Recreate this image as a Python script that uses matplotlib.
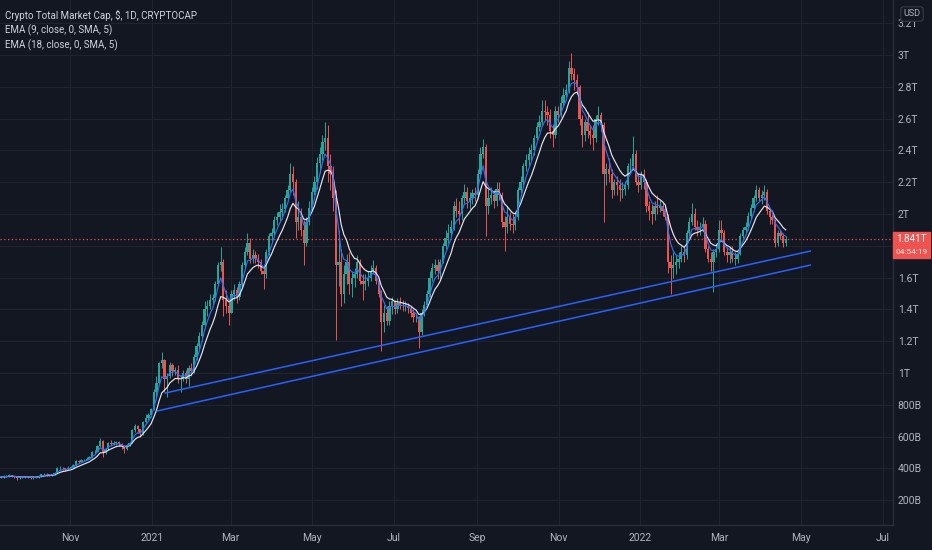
import matplotlib
matplotlib.use('Agg')
import matplotlib.pyplot as plt
import matplotlib.dates as mdates
import numpy as np
import pandas as pd

# 2日足, 単位は B (十億ドル)
start_date = '2020-09-10'
first_open = 342

close = [
    346, 350, 352, 356, 352, 348, 338, 345, 347, 346, 348,                      # 2020-09
    340, 345, 344, 350, 362, 365, 362, 358, 360, 372, 400, 405, 400, 395, 405,  # 2020-10
    405, 420, 445, 442, 450, 455, 462, 470, 500, 505, 540, 575, 500, 520, 560,  # 2020-11
    555, 560, 565, 555, 540, 520, 545, 560, 640, 665, 645, 620, 690, 720, 735, 775,  # 2020-12
    880, 940, 1060, 1080, 960, 980, 1050, 1010, 1020, 960, 960, 1000, 960, 1030, 1010,  # 2021-01
    1100, 1170, 1230, 1300, 1400, 1420, 1460, 1470, 1560, 1680, 1700, 1460, 1420, 1380,  # 2021-02
    1500, 1520, 1480, 1560, 1680, 1760, 1820, 1720, 1740, 1720, 1700, 1640, 1620, 1760, 1860, 1880,  # 2021-03
    1960, 1980, 2010, 2030, 2100, 2150, 2250, 2200, 1950, 1980, 1900, 1820, 1950, 2040, 2140,  # 2021-04
    2200, 2320, 2380, 2450, 2480, 2300, 2250, 2100, 1680, 1700, 1500, 1620, 1700, 1560, 1600,  # 2021-05
    1620, 1700, 1580, 1560, 1580, 1600, 1640, 1660, 1580, 1500, 1320, 1380, 1330, 1420, 1450,  # 2021-06
    1400, 1440, 1430, 1420, 1420, 1410, 1380, 1350, 1350, 1260, 1380, 1430, 1500, 1600, 1660, 1680,  # 2021-07
    1640, 1700, 1800, 1850, 1880, 1920, 2050, 2020, 2000, 2100, 2140, 2080, 2100, 2130, 2120,  # 2021-08
    2250, 2380, 2420, 2050, 2100, 2120, 2080, 2160, 2120, 1950, 1920, 1980, 1940, 1930, 1980,  # 2021-09
    2150, 2200, 2300, 2340, 2380, 2400, 2480, 2550, 2580, 2650, 2640, 2620, 2520, 2500, 2650, 2620,  # 2021-10
    2700, 2750, 2780, 2920, 2880, 2840, 2800, 2600, 2500, 2580, 2520, 2500, 2480, 2600, 2620,  # 2021-11
    2560, 2250, 2280, 2250, 2150, 2200, 2180, 2150, 2160, 2180, 2300, 2300, 2380, 2200, 2180,  # 2021-12
    2250, 2200, 2050, 2020, 2000, 2050, 2040, 2050, 2020, 1980, 1700, 1660, 1680, 1700, 1720, 1760,  # 2022-01
    1740, 1880, 1950, 2000, 1920, 1900, 1920, 1940, 1780, 1720, 1700, 1760, 1780, 1900,  # 2022-02
    1880, 1760, 1740, 1760, 1720, 1720, 1750, 1860, 1900, 1920, 1990, 2040, 2100, 2150, 2100,  # 2022-03
    2120, 2140, 2020, 1980, 1960, 1820, 1880, 1860, 1820, 1841,  # 2022-04
]

high = [
    352, 356, 358, 362, 360, 355, 350, 350, 352, 352, 354,
    350, 350, 352, 356, 366, 372, 370, 366, 364, 378, 408, 412, 410, 404, 412,
    412, 425, 452, 455, 460, 462, 470, 478, 510, 518, 548, 592, 580, 530, 568,
    580, 570, 575, 570, 560, 545, 552, 565, 650, 680, 670, 650, 695, 740, 750, 780,
    900, 980, 1070, 1130, 1090, 1000, 1070, 1060, 1040, 1050, 990, 1020, 1020, 1050, 1060,
    1120, 1190, 1260, 1330, 1450, 1460, 1500, 1500, 1580, 1700, 1790, 1720, 1520, 1450,
    1520, 1560, 1540, 1580, 1700, 1790, 1880, 1850, 1780, 1770, 1750, 1720, 1680, 1780, 1880, 1910,
    1990, 2010, 2060, 2070, 2120, 2180, 2320, 2300, 2220, 2080, 2040, 1960, 1980, 2080, 2170,
    2240, 2360, 2420, 2500, 2580, 2560, 2380, 2300, 2150, 1900, 1780, 1680, 1750, 1760, 1640,
    1660, 1740, 1720, 1620, 1620, 1640, 1680, 1710, 1680, 1600, 1520, 1430, 1420, 1450, 1480,
    1460, 1470, 1480, 1460, 1450, 1440, 1420, 1400, 1380, 1360, 1400, 1450, 1520, 1640, 1690, 1720,
    1720, 1720, 1820, 1900, 1940, 1960, 2080, 2100, 2080, 2120, 2190, 2170, 2140, 2160, 2170,
    2280, 2420, 2470, 2440, 2160, 2170, 2150, 2200, 2200, 2140, 1990, 2050, 2010, 2000, 2010,
    2170, 2240, 2320, 2380, 2420, 2440, 2500, 2580, 2620, 2720, 2720, 2680, 2660, 2560, 2680, 2680,
    2740, 2790, 2820, 2960, 3010, 2920, 2880, 2810, 2620, 2600, 2640, 2560, 2560, 2620, 2680,
    2640, 2580, 2320, 2350, 2280, 2220, 2240, 2220, 2200, 2210, 2320, 2350, 2490, 2400, 2250,
    2270, 2280, 2220, 2080, 2060, 2080, 2120, 2090, 2070, 2050, 2000, 1740, 1760, 1740, 1760, 1800,
    1800, 1900, 1980, 2070, 2040, 1960, 1950, 1980, 1960, 1800, 1760, 1780, 1820, 1960,
    1960, 1900, 1790, 1800, 1800, 1760, 1770, 1880, 1920, 1950, 2010, 2060, 2120, 2180, 2170,
    2150, 2180, 2160, 2040, 2000, 1970, 1900, 1900, 1880, 1860,
]

low = [
    338, 342, 345, 348, 346, 340, 330, 334, 340, 340, 342,
    334, 336, 338, 342, 348, 358, 355, 350, 352, 356, 370, 392, 390, 385, 392,
    398, 400, 418, 432, 438, 445, 450, 458, 468, 490, 502, 535, 470, 490, 515,
    540, 545, 548, 540, 525, 498, 515, 540, 558, 630, 620, 600, 612, 680, 705, 725,
    770, 840, 930, 1030, 880, 850, 970, 980, 990, 940, 880, 950, 940, 920, 980,
    1000, 1080, 1150, 1200, 1280, 1360, 1400, 1420, 1450, 1550, 1640, 1360, 1380, 1300,
    1380, 1460, 1440, 1460, 1550, 1660, 1740, 1690, 1690, 1690, 1660, 1620, 1530, 1600, 1740, 1830,
    1860, 1930, 1950, 1970, 2010, 2080, 2140, 2120, 1850, 1900, 1860, 1680, 1800, 1930, 2020,
    2120, 2160, 2260, 2340, 2400, 2200, 2150, 2020, 1210, 1550, 1420, 1440, 1560, 1500, 1480,
    1540, 1600, 1560, 1460, 1520, 1550, 1580, 1620, 1560, 1480, 1140, 1260, 1300, 1300, 1370,
    1370, 1380, 1400, 1390, 1390, 1380, 1350, 1320, 1320, 1160, 1240, 1360, 1420, 1480, 1580, 1620,
    1590, 1590, 1690, 1780, 1820, 1860, 1900, 1980, 1940, 1960, 2070, 2040, 2030, 2060, 2080,
    2100, 2230, 2350, 1860, 2000, 2060, 2040, 2050, 2090, 1920, 1770, 1880, 1900, 1880, 1900,
    1960, 2130, 2180, 2270, 2300, 2340, 2370, 2460, 2520, 2560, 2590, 2560, 2480, 2420, 2480, 2580,
    2610, 2680, 2720, 2760, 2840, 2780, 2760, 2560, 2420, 2460, 2480, 2440, 2400, 2450, 2560,
    2520, 1950, 2180, 2200, 2100, 2120, 2120, 2080, 2100, 2120, 2160, 2250, 2290, 2180, 2140,
    2160, 2160, 2010, 1960, 1940, 1960, 2000, 2010, 1990, 1960, 1630, 1500, 1600, 1620, 1660, 1700,
    1700, 1720, 1860, 1930, 1900, 1860, 1870, 1900, 1760, 1700, 1640, 1510, 1730, 1760,
    1840, 1740, 1700, 1690, 1700, 1680, 1690, 1740, 1850, 1880, 1900, 1970, 2020, 2080, 2080,
    2060, 2090, 2000, 1940, 1940, 1790, 1800, 1840, 1790, 1800,
]

# 手書きのトレンドライン (日付, 値)
upper_line = [('2021-01-11', 874), ('2022-05-08', 1767)]
lower_line = [('2021-01-05', 761), ('2022-05-08', 1679)]

last_price = 1841
last_price_text = '1.841T'
countdown_text = '04:54:19'

y_ticks = [200, 400, 600, 800, 1000, 1200, 1400, 1600, 1800, 2000, 2200, 2400, 2600, 2800, 3000, 3200]
y_labels = ['200B', '400B', '600B', '800B', '1T', '1.2T', '1.4T', '1.6T', '', '2T', '2.2T', '2.4T',
            '2.6T', '2.8T', '3T', '3.2T']
x_ticks = ['2020-11-01', '2021-01-01', '2021-03-01', '2021-05-01', '2021-07-01', '2021-09-01',
           '2021-11-01', '2022-01-01', '2022-03-01', '2022-05-01', '2022-07-01']
x_labels = ['Nov', '2021', 'Mar', 'May', 'Jul', 'Sep', 'Nov', '2022', 'Mar', 'May', 'Jul']

legend_lines = ['Crypto Total Market Cap, $, 1D, CRYPTOCAP',
                'EMA (9, close, 0, SMA, 5)',
                'EMA (18, close, 0, SMA, 5)']

bg = '#131722'
txt = '#b2b5be'
up_col = '#26a69a'
down_col = '#ef5350'
fam = ['Roboto', 'DejaVu Sans']

fig = plt.figure(figsize=(9.32, 5.5), dpi=100, facecolor=bg)
W, H = 932, 550
ax = fig.add_axes([0, 25 / H, 893 / W, 525 / H])
ax.set_facecolor(bg)

dates = pd.date_range(start_date, periods=len(close), freq='2D')
xs = mdates.date2num(dates) + 0.5
closes = np.array(close, dtype=float)
opens = np.concatenate([[first_open], closes[:-1]])
colors = np.where(closes >= opens, up_col, down_col)

ax.vlines(xs, low, high, colors=colors, linewidth=0.7, zorder=3)
body = np.maximum(np.abs(closes - opens), 4)
ax.bar(xs, body, bottom=np.minimum(opens, closes), width=1.7, color=colors, linewidth=0, zorder=3)

# EMA (日足の9/18を2日足に換算)
s = pd.Series(closes)
ema9 = s.ewm(alpha=1 - (1 - 2 / 10) ** 2, adjust=False).mean()
ema18 = s.ewm(alpha=1 - (1 - 2 / 19) ** 2, adjust=False).mean()
ax.plot(xs, ema18, color='#e6e6ec', lw=0.85, zorder=4)
ax.plot(xs, ema9, color='#2f6fef', lw=0.85, zorder=4)

for line in [upper_line, lower_line]:
    lx = mdates.date2num(pd.to_datetime([p[0] for p in line]))
    ly = [p[1] for p in line]
    ax.plot(lx, ly, color='#2962ff', lw=1.1, zorder=5, solid_capstyle='round')

ax.axhline(last_price, color=down_col, lw=0.9, ls=(0, (1, 2)), zorder=2)

x0 = mdates.date2num(pd.Timestamp('2020-11-01'))
ax.set_xlim(x0 - 52.3, x0 + 614.6)
ax.set_ylim(44, 3346)

ax.set_xticks(mdates.date2num(pd.to_datetime(x_ticks)))
ax.set_xticklabels(x_labels, family=fam, fontsize=7.5, color=txt)
ax.set_yticks(y_ticks)
ax.set_yticklabels(y_labels, family=fam, fontsize=7.5, color=txt)
ax.yaxis.tick_right()
ax.tick_params(axis='y', length=0, pad=3.5)
ax.tick_params(axis='x', length=0, pad=6)
ax.grid(True, color='#1f232e', lw=0.8, zorder=0)
for side in ['top', 'left']:
    ax.spines[side].set_visible(False)
for side in ['right', 'bottom']:
    ax.spines[side].set_color('#2a2e39')
    ax.spines[side].set_linewidth(1.0)

for i, t in enumerate(legend_lines):
    fig.text(5 / W, 1 - (15 + 15 * i) / H, t, family=fam, fontsize=7,
             color='#d1d4dc', va='center', ha='left')

# 現在値ラベル
fig.patches.append(plt.Rectangle((893 / W, 1 - 258 / H), 37 / W, 26 / H,
                                 transform=fig.transFigure, color=down_col, zorder=10))
fig.text(911.5 / W, 1 - 239.5 / H, last_price_text, family=fam, fontsize=7, color='white',
         va='center', ha='center', zorder=11)
fig.text(911.5 / W, 1 - 251.5 / H, countdown_text, family=fam, fontsize=6, color='#fde3e3',
         va='center', ha='center', zorder=11)
fig.text(912 / W, 1 - 14 / H, 'USD', family=fam, fontsize=6.5, color=txt, ha='center', va='center',
         zorder=11, bbox=dict(boxstyle='round,pad=0.3', fc=bg, ec='#363a45', lw=0.8))

fig.savefig('out.png', dpi=100, facecolor=bg)
